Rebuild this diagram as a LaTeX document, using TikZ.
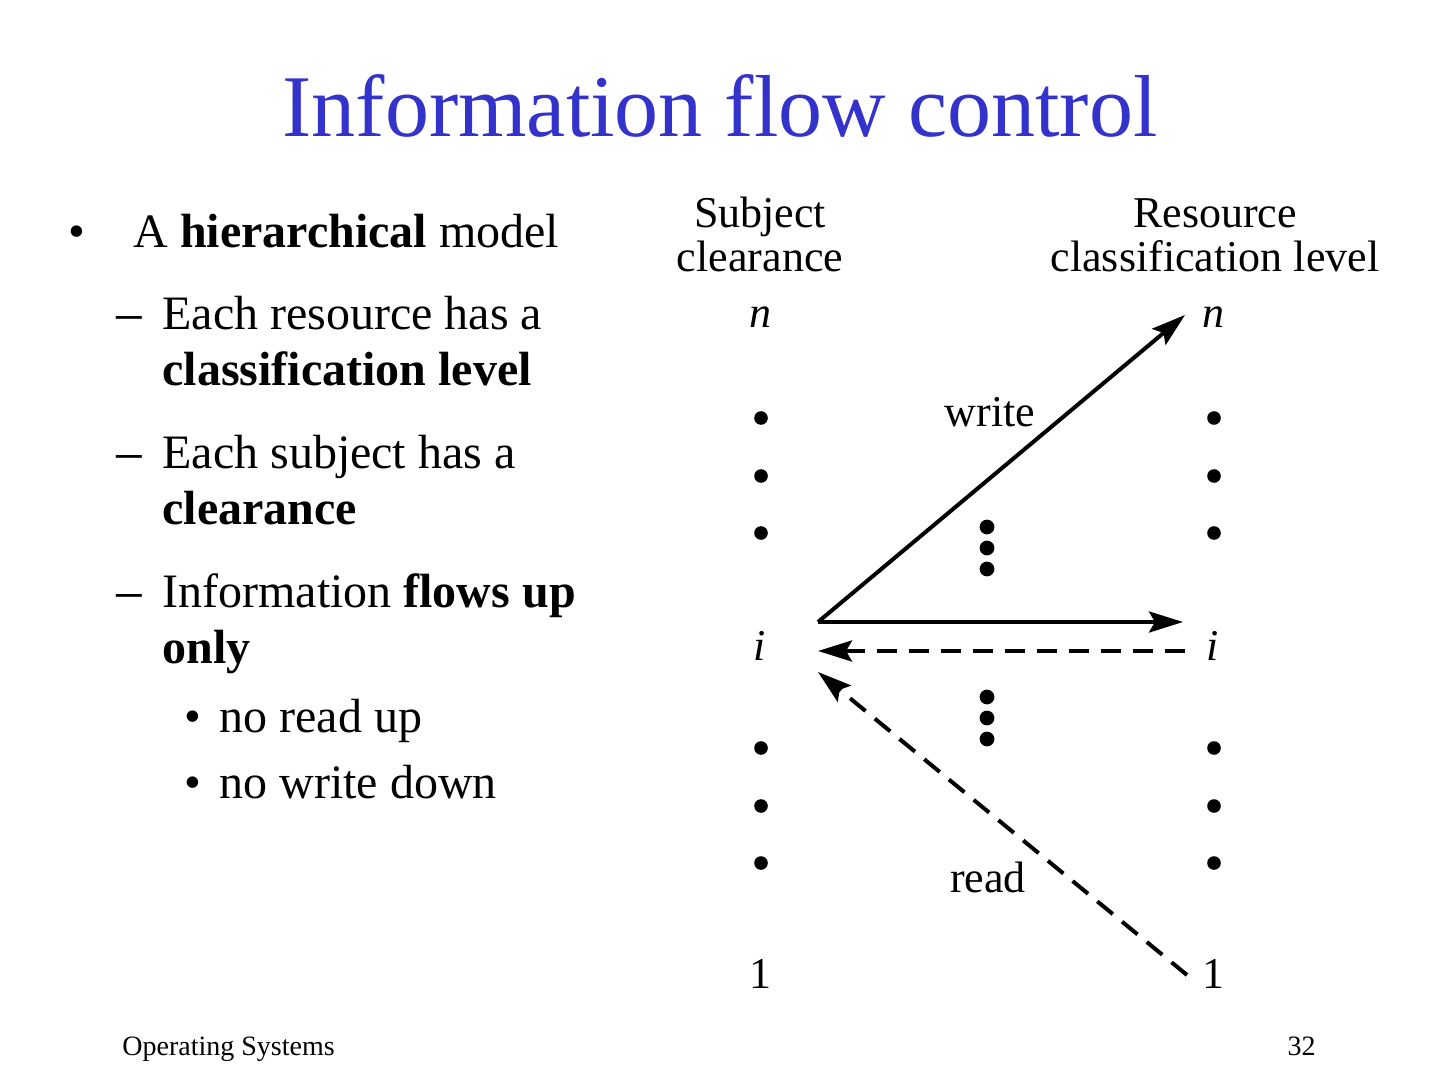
\documentclass[tikz,border=0pt]{standalone}
\usepackage{fontspec}
\setmainfont{Liberation Serif}
\usetikzlibrary{arrows.meta}
\definecolor{titleblue}{RGB}{51,51,204}

\begin{document}
\begin{tikzpicture}[x=0.5pt,y=0.5pt,yscale=-1,xscale=1,
	bodytext/.style={anchor=base west,inner sep=0pt,font=\fontsize{24}{28}\selectfont},
	dashtext/.style={anchor=base west,inner sep=0pt,font=\fontsize{28}{28}\selectfont},
	foottext/.style={inner sep=0pt,font=\fontsize{14}{16}\selectfont},
	lvltext/.style={anchor=base,inner sep=0pt,font=\fontsize{22}{22}\selectfont},
	flowline/.style={line width=2pt,-{Stealth[length=17pt,width=10.5pt,inset=3pt]}},
	flowdash/.style={flowline,dash pattern=on 10pt off 6pt}]
			\useasboundingbox (0,0) rectangle (1440,1080);

			% Title
			\node (title) at (720,137) [anchor=base,inner sep=0pt,text=titleblue,font=\fontsize{44}{48}\selectfont] {Information flow control};

			% Text Node
			\node (bul1) at (68,248) [bodytext] {•};
			\node (txt1) at (133,248) [bodytext] {A \textbf{hierarchical} model};
			% Text Node
			\node (dsh1) at (113,337) [dashtext] {−};
			\node (txt2) at (162,330) [bodytext] {Each resource has a};
			\node (txt3) at (162,386) [bodytext] {\textbf{classification level}};
			% Text Node
			\node (dsh2) at (113,475) [dashtext] {−};
			\node (txt4) at (162,468) [bodytext] {Each subject has a};
			\node (txt5) at (162,524) [bodytext] {\textbf{clearance}};
			% Text Node
			\node (dsh3) at (113,614) [dashtext] {−};
			\node (txt6) at (162,607) [bodytext] {Information \textbf{flows up}};
			\node (txt7) at (162,663) [bodytext] {\textbf{only}};
			% Text Node
			\node (bul2) at (184,732) [bodytext] {•};
			\node (txt8) at (219,732) [bodytext] {no read up};
			\node (bul3) at (184,798) [bodytext] {•};
			\node (txt9) at (219,798) [bodytext] {no write down};

			% Footer
			\node (foot) at (122,1055) [foottext,anchor=base west] {Operating Systems};
			\node (page) at (1316,1055) [foottext,anchor=base east] {32};

			% Column headings
			\node (subj) at (760,272) [lvltext,align=center] {Subject\\clearance};
			\node (res) at (1215,272) [lvltext,align=center] {Resource\\classification level};

			% Level labels
			\node (sn) at (760,328) [lvltext] {\textit{n}};
			\node (si) at (760,660) [lvltext] {\textit{i}};
			\node (s1) at (760,988) [lvltext] {1};
			\node (rn) at (1213,328) [lvltext] {\textit{n}};
			\node (ri) at (1213,660) [lvltext] {\textit{i}};
			\node (r1) at (1213,988) [lvltext] {1};

			%Shape: Circle
			\fill (761,418) circle [radius=3.4pt];
			\fill (761,476) circle [radius=3.4pt];
			\fill (761,533) circle [radius=3.4pt];
			\fill (761,748) circle [radius=3.4pt];
			\fill (761,806) circle [radius=3.4pt];
			\fill (761,863) circle [radius=3.4pt];
			%Shape: Circle
			\fill (1214,418) circle [radius=3.4pt];
			\fill (1214,476) circle [radius=3.4pt];
			\fill (1214,533) circle [radius=3.4pt];
			\fill (1214,748) circle [radius=3.4pt];
			\fill (1214,806) circle [radius=3.4pt];
			\fill (1214,863) circle [radius=3.4pt];
			%Shape: Circle
			\fill (987,527) circle [radius=3.7pt];
			\fill (987,548) circle [radius=3.7pt];
			\fill (987,569) circle [radius=3.7pt];
			\fill (987,697) circle [radius=3.7pt];
			\fill (987,718) circle [radius=3.7pt];
			\fill (987,739) circle [radius=3.7pt];

			% Arrow ends
			\coordinate (src) at (818,622);
			\coordinate (wtip) at (1185,315);
			\coordinate (itip) at (1183,622);
			\coordinate (dfrom) at (1185,651);
			\coordinate (dtip) at (818,651);
			\coordinate (rfrom) at (1187,975);
			\coordinate (rtip) at (818,672);

			%Straight Lines
			\draw [flowline] (src) -- (wtip);
			\draw [flowline] (src) -- (itip);
			\draw [flowdash] (dfrom) -- (dtip);
			\draw [flowdash] (rfrom) -- (rtip);

			% Text Node
			\node (wlbl) at (990,427) [lvltext] {write};
			\node (rlbl) at (988,892) [lvltext] {read};

\end{tikzpicture}
\end{document}
